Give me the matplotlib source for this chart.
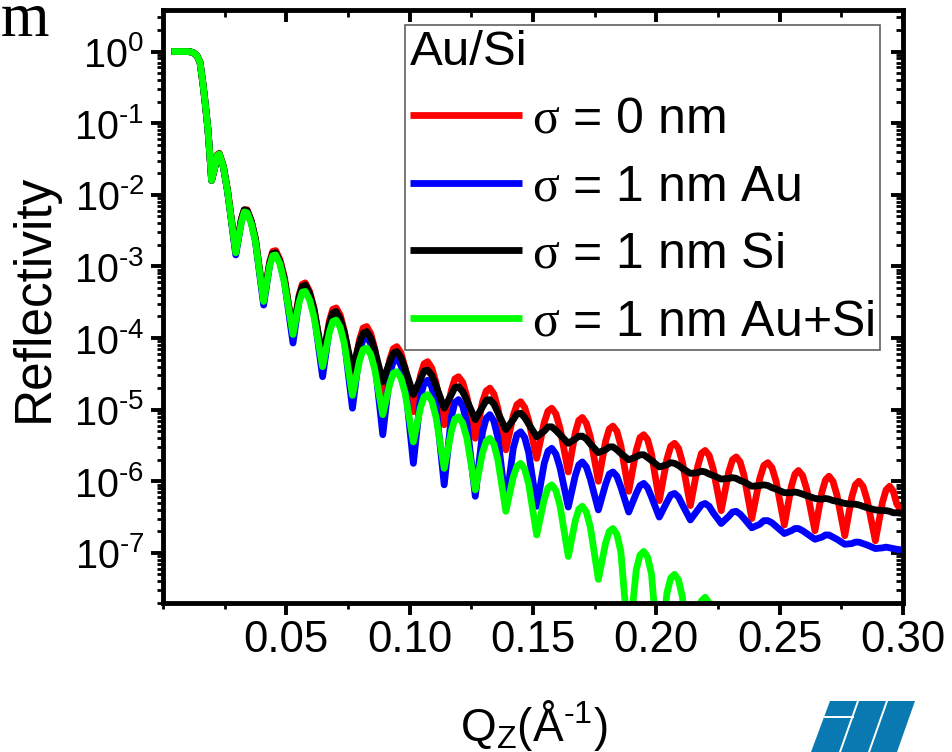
import numpy as np
import matplotlib
matplotlib.use('Agg')
import matplotlib.pyplot as plt
from matplotlib.ticker import (FixedLocator, MultipleLocator, LogLocator,
                               FuncFormatter, NullFormatter)
from matplotlib.patches import Polygon
from matplotlib.lines import Line2D

plt.rcParams['font.family'] = ['Liberation Sans', 'DejaVu Sans']
plt.rcParams['mathtext.fontset'] = 'custom'
plt.rcParams['mathtext.rm'] = 'Liberation Serif'
plt.rcParams['mathtext.default'] = 'regular'

HY = '\u2010'  # short hyphen used in the exponents

# ---------------- data ----------------
# Q_z (1/Angstrom): plateau/edge, then per fringe: min, rise, near-top, top, near-top, fall
q_edge = [0.0035, 0.0100, 0.0112, 0.0125, 0.0138, 0.0150, 0.0162, 0.0172, 0.0182, 0.0190]
q_fringes = [
    0.0197, 0.02125, 0.02203, 0.0228, 0.02448, 0.02615,
    0.0295, 0.0318, 0.03295, 0.0341, 0.03578, 0.03745,
    0.0408, 0.04325, 0.04448, 0.0457, 0.04745, 0.0492,
    0.0527, 0.0552, 0.05645, 0.0577, 0.05945, 0.0612,
    0.0647, 0.06745, 0.06883, 0.0702, 0.07185, 0.0735,
    0.0768, 0.0797, 0.08115, 0.0826, 0.08423, 0.08585,
    0.0891, 0.09195, 0.09338, 0.0948, 0.09648, 0.09815,
    0.1015, 0.1044, 0.10585, 0.1073, 0.10898, 0.11065,
    0.1140, 0.1169, 0.11835, 0.1198, 0.1215, 0.1232,
    0.1266, 0.12955, 0.13103, 0.1325, 0.13413, 0.13575,
    0.1390, 0.1420, 0.1435, 0.1450, 0.14663, 0.14825,
    0.1515, 0.15455, 0.15608, 0.1576, 0.15928, 0.16095,
    0.1643, 0.16715, 0.16858, 0.1700, 0.17163, 0.17325,
    0.1765, 0.17945, 0.18093, 0.1824, 0.1840, 0.1856,
    0.1888, 0.19185, 0.19338, 0.1949, 0.19648, 0.19805,
    0.2012, 0.2043, 0.20585, 0.2074, 0.2090, 0.2106,
    0.2138, 0.2168, 0.2183, 0.2198, 0.22143, 0.22305,
    0.2263, 0.22935, 0.23088, 0.2324, 0.23398, 0.23555,
    0.2387, 0.24195, 0.24358, 0.2452, 0.24688, 0.24855,
    0.2519, 0.25475, 0.25618, 0.2576, 0.25928, 0.26095,
    0.2643, 0.26715, 0.26858, 0.2700, 0.2716, 0.2732,
    0.2764, 0.27925, 0.28068, 0.2821, 0.28378, 0.28545,
    0.2888, 0.2917, 0.29315, 0.2946, 0.29605, 0.2975,
    0.3000]
q_points = q_edge + q_fringes

# log10(reflectivity)
log_edge = [0.0, 0.0, -0.005, -0.02, -0.06, -0.15, -0.45, -0.75, -1.08, -1.45]

log_red = log_edge + [
    -1.80, -1.58, -1.44, -1.42, -1.60, -1.93,
    -2.80, -2.33, -2.21, -2.21, -2.36, -2.61,
    -3.47, -2.93, -2.79, -2.78, -2.91, -3.15,
    -3.93, -3.40, -3.25, -3.23, -3.35, -3.58,
    -4.33, -3.76, -3.60, -3.58, -3.68, -3.90,
    -4.54, -4.02, -3.86, -3.84, -3.94, -4.15,
    -4.82, -4.30, -4.15, -4.12, -4.21, -4.42,
    -5.03, -4.52, -4.36, -4.33, -4.42, -4.62,
    -5.21, -4.73, -4.57, -4.54, -4.62, -4.82,
    -5.40, -4.89, -4.74, -4.70, -4.78, -4.98,
    -5.56, -5.08, -4.93, -4.89, -4.97, -5.15,
    -5.68, -5.18, -5.02, -4.98, -5.06, -5.26,
    -5.87, -5.32, -5.15, -5.11, -5.19, -5.38,
    -6.00, -5.44, -5.27, -5.23, -5.30, -5.50,
    -6.14, -5.57, -5.39, -5.35, -5.42, -5.62,
    -6.27, -5.69, -5.51, -5.47, -5.54, -5.74,
    -6.34, -5.79, -5.61, -5.57, -5.64, -5.83,
    -6.41, -5.87, -5.70, -5.66, -5.73, -5.92,
    -6.52, -5.96, -5.78, -5.74, -5.81, -6.00,
    -6.61, -6.07, -5.90, -5.85, -5.92, -6.11,
    -6.69, -6.15, -5.98, -5.93, -6.00, -6.19,
    -6.76, -6.22, -6.05, -6.00, -6.07, -6.26,
    -6.83, -6.29, -6.12, -6.07, -6.14, -6.32,
    -6.44]

log_blue = log_edge + [
    -1.80, -1.58, -1.45, -1.43, -1.61, -1.95,
    -2.84, -2.36, -2.22, -2.23, -2.38, -2.64,
    -3.54, -2.97, -2.83, -2.82, -2.95, -3.20,
    -4.07, -3.46, -3.30, -3.28, -3.40, -3.64,
    -4.54, -3.87, -3.70, -3.68, -3.79, -4.03,
    -4.98, -4.19, -4.01, -3.98, -4.08, -4.32,
    -5.35, -4.50, -4.32, -4.28, -4.38, -4.62,
    -5.75, -4.82, -4.63, -4.59, -4.68, -4.93,
    -6.05, -5.10, -4.90, -4.86, -4.95, -5.19,
    -6.21, -5.31, -5.12, -5.07, -5.16, -5.39,
    -6.33, -5.54, -5.35, -5.31, -5.39, -5.60,
    -6.35, -5.75, -5.58, -5.54, -5.62, -5.81,
    -6.36, -5.92, -5.77, -5.73, -5.80, -5.97,
    -6.40, -6.04, -5.90, -5.87, -5.93, -6.08,
    -6.43, -6.17, -6.06, -6.03, -6.09, -6.22,
    -6.50, -6.29, -6.19, -6.17, -6.22, -6.33,
    -6.54, -6.40, -6.33, -6.31, -6.35, -6.44,
    -6.59, -6.49, -6.43, -6.42, -6.46, -6.52,
    -6.65, -6.60, -6.55, -6.55, -6.58, -6.63,
    -6.73, -6.69, -6.66, -6.66, -6.69, -6.73,
    -6.81, -6.78, -6.75, -6.75, -6.78, -6.81,
    -6.88, -6.87, -6.85, -6.85, -6.87, -6.89,
    -6.94, -6.93, -6.92, -6.93, -6.94, -6.95,
    -6.96]

log_black = log_edge + [
    -1.80, -1.58, -1.45, -1.43, -1.61, -1.94,
    -2.80, -2.34, -2.21, -2.22, -2.37, -2.62,
    -3.47, -2.96, -2.82, -2.81, -2.94, -3.18,
    -3.92, -3.42, -3.28, -3.26, -3.38, -3.60,
    -4.28, -3.80, -3.65, -3.63, -3.73, -3.92,
    -4.45, -4.06, -3.93, -3.91, -4.00, -4.17,
    -4.61, -4.33, -4.21, -4.19, -4.27, -4.43,
    -4.79, -4.57, -4.46, -4.45, -4.52, -4.66,
    -4.98, -4.79, -4.69, -4.68, -4.75, -4.87,
    -5.14, -4.96, -4.87, -4.86, -4.92, -5.04,
    -5.28, -5.14, -5.06, -5.05, -5.11, -5.20,
    -5.38, -5.30, -5.24, -5.24, -5.29, -5.35,
    -5.47, -5.41, -5.37, -5.37, -5.41, -5.48,
    -5.60, -5.56, -5.52, -5.52, -5.56, -5.61,
    -5.70, -5.66, -5.63, -5.63, -5.67, -5.71,
    -5.80, -5.77, -5.74, -5.75, -5.78, -5.82,
    -5.89, -5.88, -5.86, -5.87, -5.90, -5.92,
    -5.97, -5.96, -5.95, -5.96, -5.99, -6.01,
    -6.07, -6.06, -6.05, -6.06, -6.09, -6.11,
    -6.16, -6.16, -6.15, -6.16, -6.18, -6.20,
    -6.24, -6.25, -6.24, -6.25, -6.27, -6.28,
    -6.31, -6.32, -6.32, -6.33, -6.35, -6.37,
    -6.40, -6.41, -6.41, -6.42, -6.44, -6.44,
    -6.45]

log_green = log_edge + [
    -1.80, -1.58, -1.45, -1.43, -1.61, -1.95,
    -2.81, -2.38, -2.24, -2.25, -2.40, -2.65,
    -3.49, -2.99, -2.85, -2.84, -2.97, -3.23,
    -3.95, -3.50, -3.36, -3.35, -3.47, -3.70,
    -4.40, -3.92, -3.77, -3.75, -3.85, -4.08,
    -4.80, -4.31, -4.16, -4.14, -4.23, -4.44,
    -5.07, -4.64, -4.49, -4.47, -4.56, -4.77,
    -5.45, -4.97, -4.82, -4.79, -4.88, -5.10,
    -5.82, -5.30, -5.13, -5.10, -5.19, -5.40,
    -6.12, -5.60, -5.44, -5.40, -5.48, -5.70,
    -6.42, -5.94, -5.79, -5.75, -5.83, -6.04,
    -6.75, -6.25, -6.09, -6.05, -6.13, -6.34,
    -7.05, -6.55, -6.39, -6.35, -6.43, -6.64,
    -7.37, -6.86, -6.70, -6.66, -6.74, -6.98,
    -8.30, -7.24, -7.03, -6.98, -7.06, -7.30,
    -8.60, -7.56, -7.35, -7.30, -7.38, -7.62,
    -8.90, -7.88, -7.67, -7.62, -7.70, -7.94,
    -9.20]

labels = [r'$\mathrm{\sigma}$ = 0 nm', r'$\mathrm{\sigma}$ = 1 nm Au',
          r'$\mathrm{\sigma}$ = 1 nm Si', r'$\mathrm{\sigma}$ = 1 nm Au+Si']
colors = ['#FF0000', '#0000FF', '#000000', '#00FF00']
series = [log_red, log_blue, log_black, log_green]

x_ticks = [0.05, 0.10, 0.15, 0.20, 0.25, 0.30]

# ---------------- figure ----------------
W, H = 953, 752
fig = plt.figure(figsize=(W / 100, H / 100), dpi=100)
ax = fig.add_axes([163 / W, 1 - 603 / H, 740 / W, 593 / H])
ax.set_yscale('log')

for vals, col, lab in zip(series, colors, labels):
    q = np.array(q_points[:len(vals)])
    ax.plot(q, 10.0 ** np.array(vals), color=col, lw=4.9, label=lab,
            solid_joinstyle='round', solid_capstyle='butt')

ax.set_xlim(0, 0.30)
ax.set_ylim(10 ** -7.70, 10 ** 0.58)


def log_label(v, p):
    e = int(round(np.log10(v)))
    if e < 0:
        return '$10^{' + HY + str(-e) + '}$'
    return '$10^{' + str(e) + '}$'


# ticks
ax.xaxis.set_major_locator(FixedLocator(x_ticks))
ax.xaxis.set_minor_locator(MultipleLocator(0.025))
ax.xaxis.set_major_formatter(FuncFormatter(lambda v, p: f'{v:.2f}'))
ax.yaxis.set_major_locator(LogLocator(base=10, numticks=30))
ax.yaxis.set_minor_locator(LogLocator(base=10, subs=np.arange(2, 10), numticks=30))
ax.yaxis.set_minor_formatter(NullFormatter())
ax.yaxis.set_major_formatter(FuncFormatter(log_label))
ax.tick_params(which='major', direction='out', length=8.5, width=2.8,
               top=False, right=False)
ax.tick_params(which='minor', direction='out', length=4.3, width=2.0,
               top=False, right=False)
ax.tick_params(axis='x', which='major', pad=4, labelsize=31.5)
ax.tick_params(axis='y', which='major', pad=5, labelsize=28.5)
for s in ax.spines.values():
    s.set_linewidth(3.5)

secx = ax.secondary_xaxis('top')
secx.xaxis.set_major_locator(FixedLocator(x_ticks))
secx.xaxis.set_minor_locator(MultipleLocator(0.025))
secx.xaxis.set_major_formatter(NullFormatter())
secx.tick_params(which='major', direction='in', length=8.5, width=2.8)
secx.tick_params(which='minor', direction='in', length=5, width=2.0)
for s in secx.spines.values():
    s.set_visible(False)

secy = ax.secondary_yaxis('right')
secy.yaxis.set_major_locator(LogLocator(base=10, numticks=30))
secy.yaxis.set_minor_locator(LogLocator(base=10, subs=np.arange(2, 10), numticks=30))
secy.yaxis.set_major_formatter(NullFormatter())
secy.yaxis.set_minor_formatter(NullFormatter())
secy.tick_params(which='major', direction='in', length=8.5, width=2.8)
secy.tick_params(which='minor', direction='in', length=5, width=2.0)
for s in secy.spines.values():
    s.set_visible(False)

# axis labels
ax.set_ylabel('Reflectivity', fontsize=37)
ax.yaxis.set_label_coords(-0.141, 0.514)
ax.set_xlabel('Q$_{Z}$(Å$^{' + HY + '1}$)', fontsize=33)
ax.xaxis.set_label_coords(0.501, -0.160)

# legend
leg = ax.legend(loc='upper left', bbox_to_anchor=(0.327, 0.9747),
                borderaxespad=0, fontsize=36, title='Au/Si', title_fontsize=35.5,
                alignment='left', frameon=True, fancybox=False,
                edgecolor='#606060', framealpha=1, handlelength=2.25,
                handletextpad=0.2, labelspacing=0.43, borderpad=0.10)
leg.get_frame().set_linewidth(1.2)

# cropped letter at top-left corner
fig.text(1 / W, 1 - 36 / H, 'm', family='Liberation Serif', fontsize=45,
         ha='left', va='baseline')


# partial logo at bottom-right
def P(x, y):
    return (x / W, 1 - y / H)


logo = Polygon([P(830, 701), P(915, 701), P(897, 752), P(811, 752)],
               closed=True, transform=fig.transFigure, facecolor='#0B79B1',
               edgecolor='none')
fig.patches.append(logo)
for (xa, ya, xb, yb) in [(858, 701, 840, 752), (887, 701, 869, 752),
                         (825, 717, 853, 717)]:
    fig.add_artist(Line2D([xa / W, xb / W], [1 - ya / H, 1 - yb / H],
                          transform=fig.transFigure, color='white', lw=1.4))

fig.savefig('out.png', dpi=100)
